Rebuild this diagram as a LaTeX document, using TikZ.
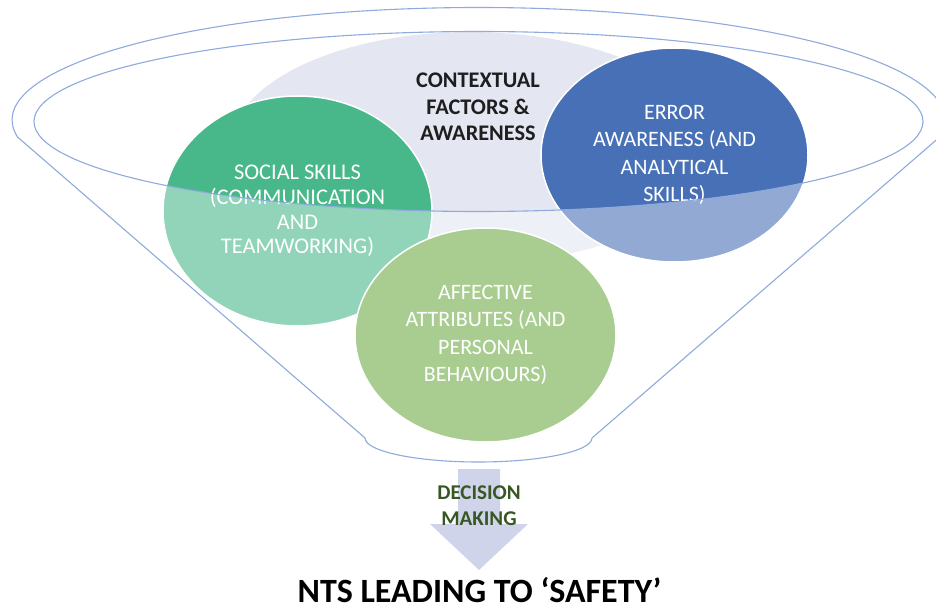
\documentclass[tikz,border=0pt]{standalone}
\usepackage{fontspec}
\setmainfont{Carlito}
\usetikzlibrary{shapes.geometric}
\definecolor{lavc}{HTML}{E4E6F2}
\definecolor{socialc}{HTML}{48B88B}
\definecolor{errorc}{HTML}{4870B6}
\definecolor{affc}{HTML}{70AD47}
\definecolor{funnelc}{HTML}{8FAADC}
\definecolor{arrowc}{HTML}{CFD4EA}
\definecolor{decc}{HTML}{385723}
\definecolor{ctxc}{HTML}{1E1E1E}
\tikzset{
  blob/.style={ellipse, inner sep=0pt, draw=white, line width=1.5pt, text=white, align=center},
  whitetxt/.style={font=\fontsize{22}{27.3}\selectfont},
  funnelline/.style={draw=funnelc, line width=1.1pt},
}
\begin{document}
\begin{tikzpicture}[x=1pt,y=-1pt]
\useasboundingbox (0,0) rectangle (936,607);
\clip (0,0) rectangle (936,607);
% background ellipse
\node[ellipse, fill=lavc, inner sep=0pt, minimum width=480pt, minimum height=232pt] (lav) at (470,148) {};
% circles
\node[blob, fill=socialc, minimum width=269pt, minimum height=230pt, font=\fontsize{22.4}{24.6}\selectfont] (social) at (297.5,211)
  {SOCIAL SKILLS\\(COMMUNICATION\\AND\\TEAMWORKING)};
\node[blob, fill=errorc, minimum width=267pt, minimum height=214pt, whitetxt] (error) at (674.5,155)
  {ERROR\\AWARENESS (AND\\ANALYTICAL\\SKILLS)};
\node[blob, fill=affc, minimum width=261pt, minimum height=214pt, whitetxt] (affect) at (485.5,335)
  {AFFECTIVE\\ATTRIBUTES (AND\\PERSONAL\\BEHAVIOURS)};
% funnel body overlay
\fill[white, fill opacity=0.4, even odd rule]
  (17.5,137) arc[start angle=171.3, end angle=368.7, x radius=466.5, y radius=112.5]
  -- (592,438) arc[start angle=0, end angle=180, x radius=113.5, y radius=24] -- cycle
  (478.5,121.5) ellipse [x radius=444.5, y radius=90];
% funnel outline
\path[funnelline]
  (17.5,137) arc[start angle=171.3, end angle=368.7, x radius=466.5, y radius=112.5]
  -- (592,438) arc[start angle=0, end angle=180, x radius=113.5, y radius=24] -- cycle;
\path[funnelline] (478.5,121.5) ellipse [x radius=444.5, y radius=90];
% contextual label
\node[align=center, text=ctxc, font=\bfseries\fontsize{22.3}{26.5}\selectfont] (ctx) at (478,107)
  {CONTEXTUAL\\FACTORS \&\\AWARENESS};
% arrow
\fill[arrowc] (458,469) -- (500,469) -- (500,524) -- (528,524) -- (479,570) -- (430,524) -- (458,524) -- cycle;
\node[align=center, text=decc, font=\bfseries\fontsize{21}{26}\selectfont] (dec) at (479,506)
  {DECISION\\MAKING};
\node[anchor=base, inner sep=0pt, font=\bfseries\fontsize{34}{38}\selectfont] (nts) at (479.5,602)
  {NTS LEADING TO ‘SAFETY’};
\end{tikzpicture}
\end{document}
